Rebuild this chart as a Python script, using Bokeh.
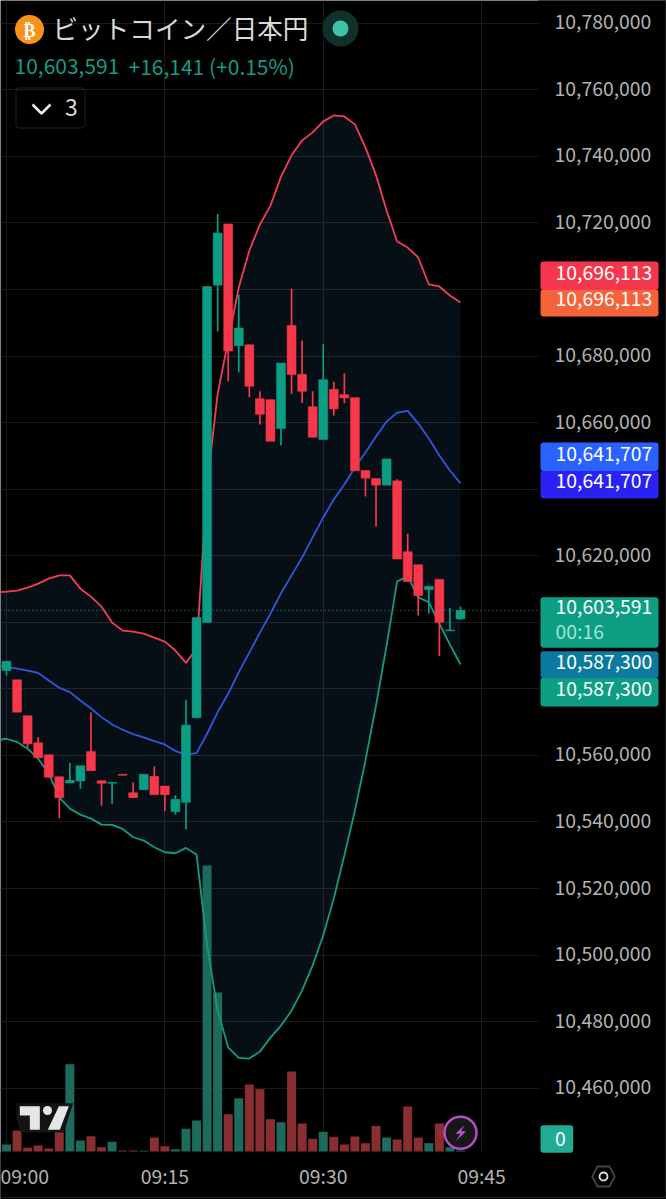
from bokeh.embed import file_html
from bokeh.resources import INLINE
from bokeh.plotting import figure
from bokeh.models import (BoxAnnotation, ColumnDataSource, FixedTicker, Grid, Label, LinearAxis,
                          NumeralTickFormatter, PolyAnnotation, Range1d)

FONT = "Noto Sans CJK JP"

# ---------- data (prices in thousands of JPY, minutes after 09:00) ----------
minutes = list(range(-1, 44))
opens = [10586.0,10585.5,10582.7,10571.9,10563.8,10560.2,10553.6,10551.7,10552.3,10561.2,10552.4,10551.6,10554.3,10548.8,10549.7,10553.7,10550.8,10543.1,10545.9,10571.3,10599.9,10701.3,10719.7,10683.1,10683.4,10667.2,10666.9,10658.2,10689.2,10674.5,10664.8,10654.9,10670.0,10668.4,10667.5,10645.6,10643.2,10641.2,10642.5,10621.2,10617.3,10609.8,10612.9,10597.4,10601.0]
highs = [10589.0,10588.3,10582.7,10571.9,10565.5,10560.2,10553.6,10557.7,10556.9,10573.0,10552.4,10551.9,10554.3,10551.9,10554.3,10556.7,10550.8,10548.0,10576.7,10601.4,10700.9,10722.7,10719.7,10698.4,10683.4,10669.4,10666.9,10677.9,10700.2,10684.7,10669.4,10683.7,10672.3,10674.8,10667.5,10645.6,10643.2,10649.1,10643.0,10626.6,10617.3,10610.8,10612.9,10604.4,10604.7]
lows = [10585.0,10584.0,10573.0,10562.3,10559.3,10553.4,10541.1,10551.7,10550.0,10555.4,10544.9,10545.5,10554.0,10547.3,10549.7,10548.2,10543.2,10542.2,10537.8,10571.3,10599.9,10687.4,10672.4,10675.1,10667.6,10659.4,10654.4,10653.1,10668.6,10665.9,10655.6,10654.9,10662.1,10665.8,10645.5,10637.8,10628.8,10641.2,10619.0,10612.2,10602.0,10602.6,10589.9,10597.4,10600.7]
closes = [10588.0,10588.3,10573.0,10563.5,10559.3,10553.4,10547.3,10552.5,10556.9,10555.4,10551.6,10551.9,10554.0,10547.3,10554.3,10548.2,10548.2,10546.8,10569.1,10601.4,10700.9,10717.0,10681.5,10688.4,10670.9,10662.5,10654.4,10677.9,10674.4,10669.4,10655.6,10672.9,10664.1,10667.4,10645.5,10643.3,10641.2,10649.1,10619.0,10612.2,10608.0,10610.8,10600.0,10597.7,10603.591]
volumes = [11,7,21,3.7,6,3,22.7,87.3,11,15.3,4.3,9.7,1,1,0.7,14,5.3,2.3,22.7,31,286,159,37.3,53.3,67,62.3,32.3,29.3,80,28,12.7,19.7,14.7,7,15,8.3,25.7,14,12,45,14,8.3,28,4.3,1]
upper = [10609.0,10609.2,10609.5,10610.4,10611.6,10613.1,10614.1,10614.1,10610.1,10607.7,10604.7,10599.9,10597.5,10597.2,10596.6,10595.4,10594.2,10591.5,10587.8,10592.1,10641.1,10668.7,10684.7,10700.6,10711.7,10719.5,10725.2,10733.9,10740.3,10744.8,10747.2,10750.5,10752.3,10752.0,10749.6,10742.7,10734.3,10723.7,10714.4,10712.6,10709.6,10701.5,10700.9,10698.2,10696.113]
middle = [10587.0,10586.7,10586.1,10585.5,10584.8,10582.5,10580.3,10579.0,10576.5,10574.1,10571.5,10569.3,10567.7,10566.4,10565.4,10564.3,10563.3,10561.3,10560.3,10560.7,10566.5,10573.0,10578.5,10585.0,10590.9,10596.9,10602.6,10608.7,10614.1,10619.5,10625.5,10631.5,10636.9,10641.4,10646.5,10651.0,10655.8,10660.3,10663.0,10663.5,10659.7,10655.2,10650.1,10645.6,10641.707]
lower = [10564.5,10565.0,10564.0,10562.0,10559.0,10554.5,10547.4,10544.0,10542.2,10541.0,10539.2,10539.1,10537.9,10535.4,10534.4,10532.4,10530.9,10530.6,10532.2,10530.2,10502.9,10483.3,10472.2,10469.1,10468.9,10471.0,10475.2,10478.8,10483.3,10489.4,10496.9,10505.9,10517.0,10529.9,10543.4,10558.5,10575.0,10593.0,10612.3,10613.8,10607.5,10606.0,10599.6,10593.3,10587.3]
last_price = 10603591
price_ticks = list(range(10460000, 10800000, 20000))
hidden_price_ticks = [10700000, 10640000, 10600000, 10580000]
time_ticks = [0, 15, 30, 45]
time_labels = ["09:00", "09:15", "09:30", "09:45"]
title = "ビットコイン／日本円"
quote = "10,603,591"
change = "+16,141 (+0.15%)"

# ---------- colours ----------
RED, GREEN = "#f7374a", "#0c9d84"
VRED, VGREEN = "#8a2f31", "#1d6b5d"
GRID = "#1b1b1b"
AXIS = "#b2b2b2"

# ---------- conversion used only for decorations placed in page pixels ----------
def px_x(v):
    return (v - 6) / 10.558
def px_y(v):
    return (10786.83 - 0.30048 * v) * 1000

p = figure(width=666, height=1199, output_backend="svg", toolbar_location=None,
           x_axis_location=None, y_axis_location=None,
           x_range=Range1d(px_x(0), px_x(666)), y_range=Range1d(px_y(1199), px_y(0)),
           min_border_left=0, min_border_top=0, min_border_right=0, min_border_bottom=0,
           background_fill_color="#000000", border_fill_color="#000000", outline_line_color=None)
p.extra_y_ranges = {"vol": Range1d(-48, 1151), "labels": Range1d(px_y(1200.5), px_y(1.5))}

# axes, drawn at fixed places over the full-page frame
ax_r = LinearAxis(ticker=FixedTicker(ticks=price_ticks), formatter=NumeralTickFormatter(format="0,0"),
                  major_label_overrides={v: "" for v in hidden_price_ticks},
                  y_range_name="labels", fixed_location=px_x(538),
                  axis_line_color=None, major_tick_line_color=None, minor_tick_line_color=None,
                  major_tick_out=0, major_tick_in=0, minor_tick_out=0, minor_tick_in=0,
                  major_label_text_color=AXIS, major_label_text_font=FONT,
                  major_label_text_font_size="19.4px", major_label_standoff=16)
p.add_layout(ax_r, "right")
ax_b = LinearAxis(ticker=FixedTicker(ticks=time_ticks), fixed_location=px_y(1152),
                  major_label_overrides=dict(zip(time_ticks, time_labels)),
                  axis_line_color=None, major_tick_line_color=None, minor_tick_line_color=None,
                  major_tick_out=0, major_tick_in=0, minor_tick_out=0, minor_tick_in=0,
                  major_label_text_color=AXIS, major_label_text_font=FONT,
                  major_label_text_font_size="19.4px", major_label_standoff=8)
p.add_layout(ax_b, "below")
p.ygrid.visible = False
p.xgrid.visible = False
p.add_layout(Grid(dimension=1, ticker=FixedTicker(ticks=price_ticks), grid_line_color=GRID, grid_line_width=1))
p.add_layout(Grid(dimension=0, ticker=FixedTicker(ticks=time_ticks), grid_line_color=GRID, grid_line_width=1))

# mask that ends the grid at the price scale and the time scale
p.quad(left=px_x(538), right=px_x(667), top=px_y(-1), bottom=px_y(1200), fill_color="#000000", line_color=None)
p.quad(left=px_x(-1), right=px_x(667), top=px_y(1152), bottom=px_y(1200), fill_color="#000000", line_color=None)
p.line([px_x(0), px_x(666)], [px_y(1197), px_y(1197)], line_color="#1d1d1d", line_width=1)
p.line([px_x(665), px_x(665)], [px_y(0), px_y(1197)], line_color="#1d1d1d", line_width=1)

is_up = [c >= o for o, c in zip(opens, closes)]
src = ColumnDataSource(dict(
    x=minutes,
    o=[v * 1000 for v in opens], h=[v * 1000 for v in highs],
    l=[v * 1000 for v in lows], c=[v * 1000 for v in closes],
    top=[max(a, b) * 1000 for a, b in zip(opens, closes)],
    bot=[min(a, b) * 1000 for a, b in zip(opens, closes)],
    color=[GREEN if u else RED for u in is_up],
    vcolor=[VGREEN if u else VRED for u in is_up],
    vol=volumes,
    up=[v * 1000 for v in upper], mid=[v * 1000 for v in middle], low=[v * 1000 for v in lower],
))

p.varea(x="x", y1="up", y2="low", source=src, fill_color="#2e86c1", fill_alpha=0.11)
p.vbar(x="x", width=0.85, top="vol", bottom=0, source=src, y_range_name="vol",
       fill_color="vcolor", line_color=None)
p.line("x", "up", source=src, line_color="#f23f55", line_width=1.8)
p.line("x", "mid", source=src, line_color="#3258e0", line_width=1.8)
p.line("x", "low", source=src, line_color="#159a80", line_width=1.8)
p.segment(x0="x", x1="x", y0="h", y1="l", source=src, line_color="color", line_width=1.7)
p.vbar(x="x", width=0.85, top="top", bottom="bot", source=src, fill_color="color", line_color="color", line_width=0.5)

p.line([px_x(0), px_x(538)], [last_price, last_price], line_color="#19a78d", line_dash=[1, 3], line_width=1)

# ---------- header ----------
p.scatter([px_x(29)], [px_y(29)], size=29, fill_color="#f7931a", line_color=None)
def text(t, x, y, size, color, align="left", **kw):
    p.add_layout(Label(x=x, y=y, x_units="canvas", y_units="canvas", text=t,
                       text_font=FONT, text_font_size=f"{size}px", text_color=color,
                       text_align=align, text_baseline="middle", **kw))
text("₿", 29, 28, 18, "#ffffff", "center", text_font_style="bold")
text(title, 52, 27, 25.6, "#d9d9d9")
p.scatter([px_x(340)], [px_y(28)], size=36, fill_color="#10302c", line_color=None)
p.scatter([px_x(340)], [px_y(28)], size=16, fill_color="#3fc2a8", line_color=None)
text(quote, 14, 65, 21, "#129c84")
text(change, 128, 65, 21, "#129c84")
p.add_layout(BoxAnnotation(left=px_x(15.5), right=px_x(84.5), top=px_y(87.5), bottom=px_y(127.5),
                           fill_color=None, line_color="#4a4a4a", line_width=1.5, border_radius=4))
p.line([px_x(32), px_x(41), px_x(50)], [px_y(104), px_y(113), px_y(104)], line_color="#eeeeee", line_width=2.5)
text("3", 71, 107, 23, "#d8d8d8", "center")

# ---------- watermark logo ----------
def poly(pts, **kw):
    p.patch([px_x(a / 3) for a, _ in pts], [px_y(1040 + b / 3) for _, b in pts], **kw)
poly([(48, 188), (218, 188), (190, 276), (60, 276), (48, 235)], fill_color="#141414", line_color=None)
poly([(58, 197), (118, 197), (118, 268), (88, 268), (88, 225), (58, 225)], fill_color="#e6e6e6", line_color=None)
poly([(175, 197), (205, 197), (178, 268), (142, 268)], fill_color="#e6e6e6", line_color=None)
p.scatter([px_x(47)], [px_y(1110)], size=9, fill_color="#e6e6e6", line_color=None)

# ---------- lightning badge ----------
p.scatter([px_x(460)], [px_y(1132.3)], size=32, fill_color="#171717", line_color="#b44fc9", line_width=2.5)
p.patch([px_x(280 + a / 3) for a in (553, 525, 540, 525, 557, 541)],
        [px_y(1040 + b / 3) for b in (253, 280, 280, 302, 272, 272)], fill_color="#c050d8", line_color=None)

# ---------- price tags: colour boxes first, then their texts ----------
def box(top, bottom, color, right=658):
    p.add_layout(BoxAnnotation(left=px_x(540), right=px_x(right), top=px_y(top), bottom=px_y(bottom),
                               fill_color=color, fill_alpha=1, line_color=None, border_radius=3))
box(289, 316, "#f4633a")
box(261, 289.5, "#f5374d")
box(470, 498, "#2a22f5")
box(442, 470.5, "#2962ff")
box(596.7, 647.3, "#0d9e83")
box(677, 706, "#0d9e83")
box(650.7, 677.5, "#0b7a9e")
box(1124.7, 1152.3, "#22ab94", right=572.7)
for label, y, color in [("10,696,113", 271.5, "#ffffff"), ("10,696,113", 298, "#ffffff"),
                        ("10,641,707", 452.5, "#ffffff"), ("10,641,707", 479.5, "#ffffff"),
                        ("10,603,591", 606, "#ffffff"), ("00:16", 630, "#a2e3d5"),
                        ("10,587,300", 661, "#ffffff"), ("10,587,300", 688, "#ffffff")]:
    text(label, 555, y, 19.4, color)
text("0", 560, 1138, 19.4, "#ffffff", "center")

# ---------- settings icon ----------
p.add_layout(PolyAnnotation(xs=[591.7, 597, 609, 614.3, 609, 597], ys=[1176, 1166, 1166, 1176, 1186, 1186],
                            xs_units="canvas", ys_units="canvas",
                            fill_color=None, line_color="#e0e0e0", line_width=1.8))
p.scatter([px_x(603)], [px_y(1176)], size=8, fill_color=None, line_color="#e0e0e0", line_width=1.8)

open("out.html", "w").write(file_html(p, INLINE))
